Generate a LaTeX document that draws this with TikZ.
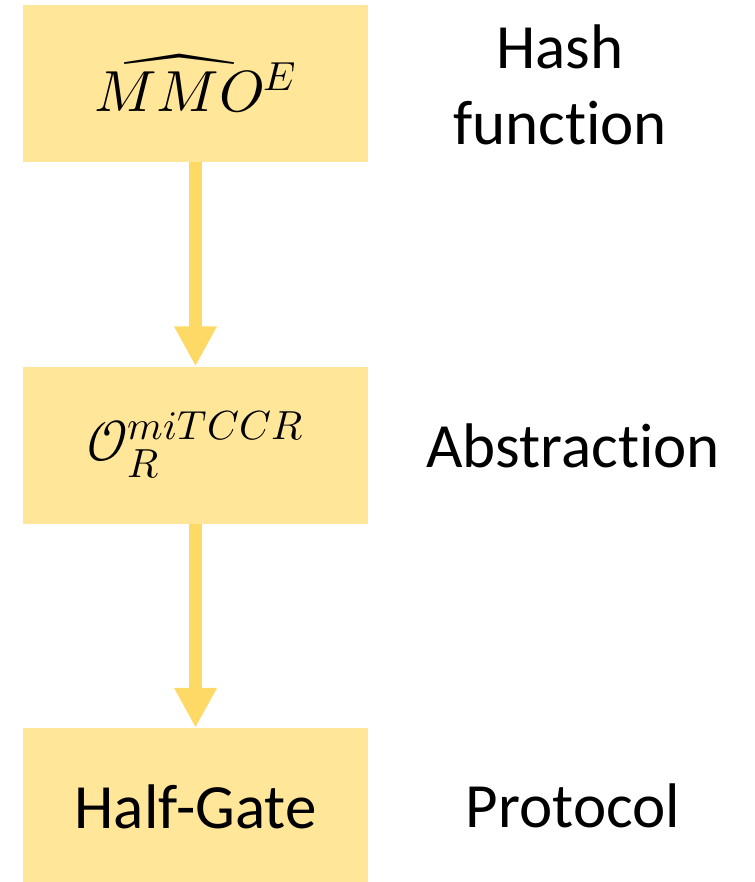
\documentclass[tikz,border=0pt]{standalone}
\usepackage{fontspec}
\usepackage{unicode-math}
\setmainfont{Carlito}[Ligatures=NoCommon]
\setmathfont{Latin Modern Math}
\usetikzlibrary{arrows.meta}
\definecolor{boxfill}{HTML}{FFE699}
\definecolor{arrowcol}{HTML}{FFD966}
\begin{document}
\begin{tikzpicture}[x=1pt,y=-1pt,
  box/.style={fill=boxfill,draw=none,minimum width=345pt,minimum height=157pt,inner sep=0pt,font=\fontsize{63}{76}\selectfont},
  mathbox/.style={box,font=\fontsize{58}{70}\selectfont},
  lab/.style={font=\fontsize{63}{76}\selectfont,align=center,inner sep=0pt},
  conn/.style={draw=arrowcol,line width=13pt,-{Triangle[width=40pt,length=40pt]}}]
\useasboundingbox (0,0) rectangle (754,882);
\node[mathbox] (b1) at (195.5,83.5) {$\widehat{MMO}{}^{E}$};
\node[mathbox] (b2) at (195.5,445) {$\mathcal{O}_{R}^{miTCCR}$};
\node[box] (b3) at (195.5,806.5) {Half-Gate};
\draw[conn] (b1.south) -- (b2.north);
\draw[conn] (b2.south) -- (b3.north);
\node[lab] (l1) at (560,85) {Hash\\function};
\node[lab] (l2) at (573,446) {Abstraction};
\node[lab] (l3) at (573,806) {Protocol};
\end{tikzpicture}
\end{document}
